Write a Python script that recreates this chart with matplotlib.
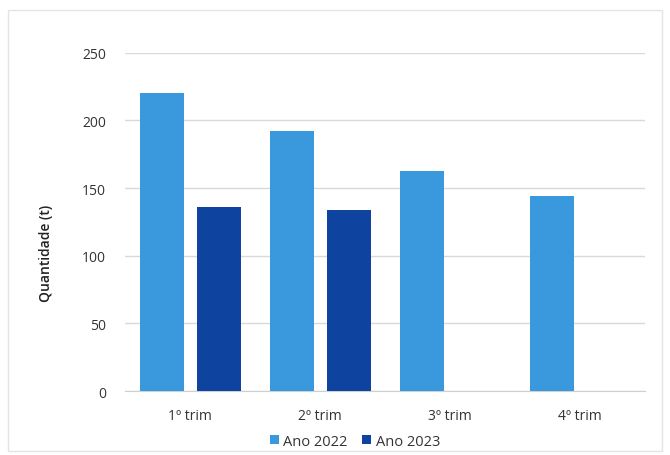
import matplotlib.pyplot as plt
import numpy as np
from matplotlib.patches import Rectangle

# ------------------------------
# Data
# ------------------------------

quarters = ["1º trim", "2º trim", "3º trim", "4º trim"]
ano_2022 = [220, 192, 163, 144]
ano_2023 = [136, 134, np.nan, np.nan]

color_2022 = "#3a98dc"
color_2023 = "#0e44a0"

# ------------------------------
# Figure
# ------------------------------

plt.rcParams["font.family"] = ["Open Sans", "DejaVu Sans"]

fig = plt.figure(figsize=(6.70, 4.56), dpi=100)
ax = fig.add_axes([0.187, 0.140, 0.776, 0.742])

# faint frame around the chart area
fig.patches.append(Rectangle((0.012, 0.008), 0.976, 0.968, transform=fig.transFigure,
                             fill=False, edgecolor="#e4e4e4", linewidth=1.0))

x = np.arange(len(quarters))
width = 0.34
offset = 0.22

ax.bar(x - offset, ano_2022, width, color=color_2022, label="Ano 2022", zorder=3)
ax.bar(x + offset, ano_2023, width, color=color_2023, label="Ano 2023", zorder=3)

ax.set_xlim(-0.5, len(quarters) - 0.5)
ax.set_ylim(0, 250)
ax.set_yticks([0, 50, 100, 150, 200, 250])
ax.set_xticks(x)
ax.set_xticklabels(quarters)

ax.grid(axis="y", color="#d9d9d9", linewidth=1.0, zorder=0)
for side in ["top", "right", "left"]:
    ax.spines[side].set_visible(False)
ax.spines["bottom"].set_color("#d0d0d0")

ax.tick_params(axis="both", length=0, labelsize=10, colors="#333333")
ax.tick_params(axis="x", pad=12)
ax.tick_params(axis="y", pad=14)

ax.set_ylabel("Quantidade (t)", fontsize=10, fontweight="semibold", color="#222222")
ax.yaxis.set_label_coords(-0.14, 0.41)

fig.legend(loc="center", bbox_to_anchor=(0.53, 0.03), ncol=2, frameon=False,
           fontsize=10.5, handlelength=0.6, handleheight=0.6, handletextpad=0.3,
           columnspacing=1.0, labelcolor="#333333")

fig.savefig("out.png", dpi=100, facecolor="white")
